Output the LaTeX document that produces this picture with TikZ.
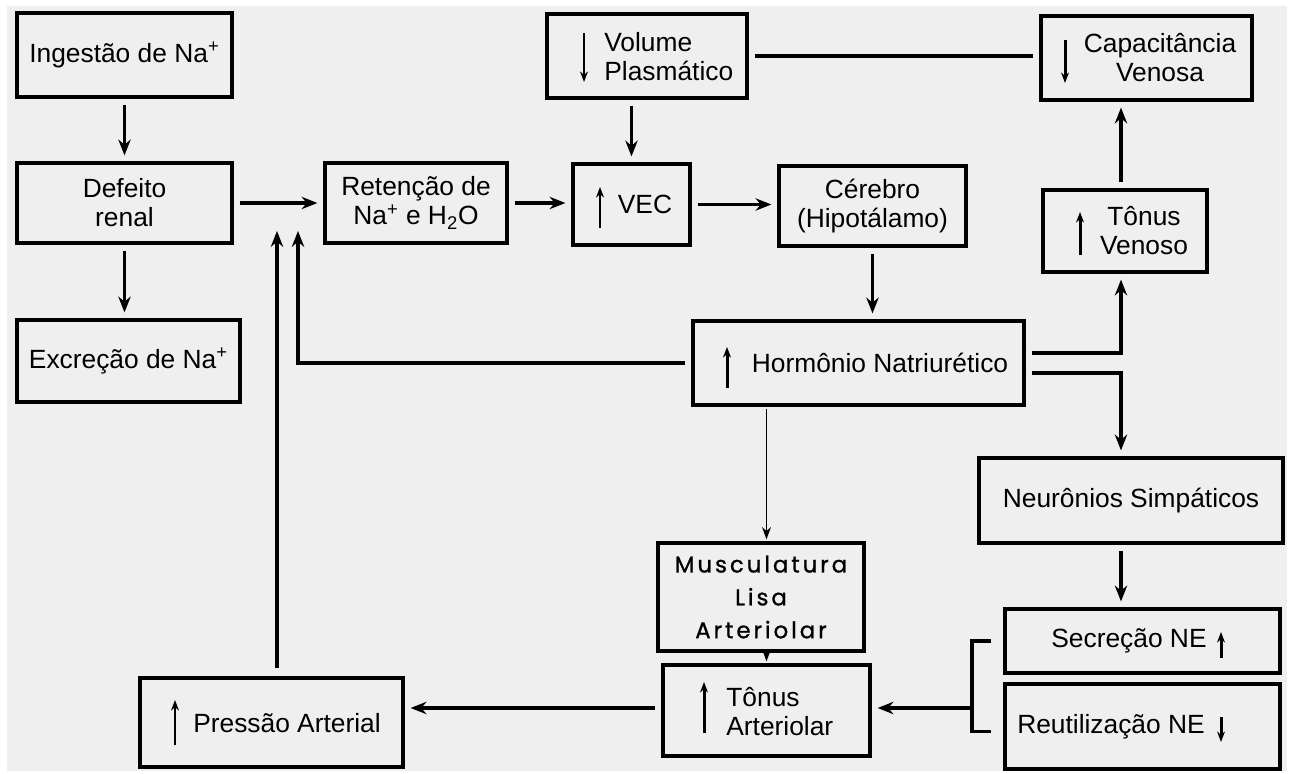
\documentclass[tikz,border=0pt]{standalone}
\usepackage{fontspec}
\setmainfont{Liberation Sans}
\newfontfamily\muscfont[LetterSpace=13,FakeBold=1]{Poppins}
\usetikzlibrary{arrows.meta}

\definecolor{paper}{RGB}{239,239,239}
\tikzset{
  blk/.style 2 args={draw, line width=1.8pt, minimum width=#1*0.02cm, minimum height=#2*0.02cm,
    inner sep=0pt, align=center, font=\fontsize{15}{16.5}\selectfont},
  txt/.style={align=center, inner sep=0pt, font=\fontsize{15}{16.5}\selectfont},
  arr/.style={line width=1.9pt, -{Stealth[length=9pt,width=7pt]}, shorten >=0.12cm, shorten <=0.12cm},
  thinarr/.style={line width=1.1pt, -{Stealth[length=7pt,width=5pt]}, shorten >=0.04cm, shorten <=0.04cm},
  inarrow/.style={line width=1.7pt, -{Stealth[length=6pt,width=4.5pt]}},
}

\begin{document}
\begin{tikzpicture}[x=0.02cm, y=-0.02cm]
  \useasboundingbox (0,0) rectangle (1292,774);
  \fill[paper] (7,6) rectangle (1287,771);

  \draw
    (124.5,55) node[blk={215}{84}] (ingest) {Ingestão de Na\textsuperscript{+}}
    (124.5,203) node[blk={215}{80}] (defeito) {Defeito\\renal}
    (128.5,361) node[blk={223}{82}] (excrecao) {Excreção de Na\textsuperscript{+}}
    (416,203) node[blk={182}{80}] (retencao) {Retenção de\\Na\textsuperscript{+} e H\textsubscript{2}O}
    (647,56) node[blk={200}{84}] (volume) {}
    (631.5,204.5) node[blk={117}{81}] (vec) {}
    (872.5,206) node[blk={187}{80}] (cerebro) {Cérebro\\(Hipotálamo)}
    (1146.5,58) node[blk={211}{84}] (capac) {}
    (1125,231) node[blk={164}{82}] (tvenoso) {}
    (858.5,363) node[blk={331}{84}] (hormonio) {}
    (1131,500.5) node[blk={304}{85}] (neuronios) {Neurônios Simpáticos}
    (761,597) node[blk={206}{108}, font=\muscfont\fontsize{13}{18.7}\selectfont] (musc) {Musculatura\\Lisa\\Arteriolar}
    (766.5,710.5) node[blk={207}{91}] (tart) {}
    (1142.5,641) node[blk={275}{64}] (secrecao) {}
    (1142.5,726.5) node[blk={275}{85}] (reutil) {}
    (271.5,722.5) node[blk={263}{89}] (pressao) {};

  \node[txt, anchor=west, align=left] (volumet) at (604,57) {Volume\\Plasmático};
  \node[txt] (vect) at (645,204) {VEC};
  \node[txt] (capact) at (1160,58) {Capacitância\\Venosa};
  \node[txt] (tvenosot) at (1144,231) {Tônus\\Venoso};
  \node[txt] (hormoniot) at (880,363) {Hormônio Natriurético};
  \node[txt, anchor=west, align=left] (tartt) at (726,712) {Tônus\\Arteriolar};
  \node[txt] (secrecaot) at (1129,641) {Secreção NE};
  \node[txt] (reutilt) at (1111,727) {Reutilização NE};
  \node[txt] (pressaot) at (287,723) {Pressão Arterial};

  \draw[inarrow] (584,33) -- (584,82);
  \draw[inarrow] (600,228) -- (600,187);
  \draw[inarrow] (1065,40) -- (1065,83);
  \draw[inarrow] (1080,255) -- (1080,212);
  \draw[inarrow] (727,388) -- (727,347);
  \draw[inarrow] (704,733) -- (704,682);
  \draw[inarrow] (1221,658) -- (1221,632);
  \draw[inarrow] (1221,717) -- (1221,742);
  \draw[inarrow] (175,745) -- (175,700);

  \coordinate (fb1) at (298,225);
  \coordinate (fb2) at (277,225);
  \coordinate (junc) at (972,708);

  \begin{scope}[line width=1.9pt]
    \draw[arr] (ingest) -- (defeito);
    \draw[arr] (defeito.south) -- (defeito.south |- excrecao.north);
    \draw[arr] (defeito) -- (retencao);
    \draw[arr] (retencao.east) -- (retencao.east -| vec.west);
    \draw[arr] (vec.east) -- (vec.east -| cerebro.west);
    \draw[arr] (volume.south -| vec) -- (vec.north);
    \draw[shorten >=0.12cm, shorten <=0.12cm] (volume.east) -- (volume.east -| capac.west);
    \draw[arr] (cerebro.south) -- (cerebro.south |- hormonio.north);
    \draw[arr] ([yshift=0.2cm]hormonio.east) -| ([xshift=-0.08cm]tvenoso.south);
    \draw[arr] ([xshift=-0.08cm]tvenoso.north) -- ([xshift=-0.08cm]tvenoso.north |- capac.south);
    \draw[arr] ([yshift=-0.2cm]hormonio.east) -| ([xshift=-0.2cm]neuronios.north);
    \draw[arr] ([xshift=-0.2cm]neuronios.south) -- ([xshift=-0.2cm]neuronios.south |- secrecao.north);
    \draw[arr] (hormonio.west) -| (fb1);
    \draw[arr, shorten <=0.16cm] (pressao.north -| fb2) -- (fb2);
    \draw[shorten <=0.24cm, shorten >=0.24cm] (secrecao.west) -| (junc) |- ([yshift=-0.1cm]reutil.west);
    \draw[arr, shorten <=0pt] (junc) -- (junc -| tart.east);
    \draw[arr] (junc -| tart.west) -- (junc -| pressao.east);
    \draw[thinarr] (hormonio.south -| tart) -- (tart |- musc.north);
    \draw[thinarr] (musc.south -| tart) -- (tart.north);
  \end{scope}
\end{tikzpicture}
\end{document}
